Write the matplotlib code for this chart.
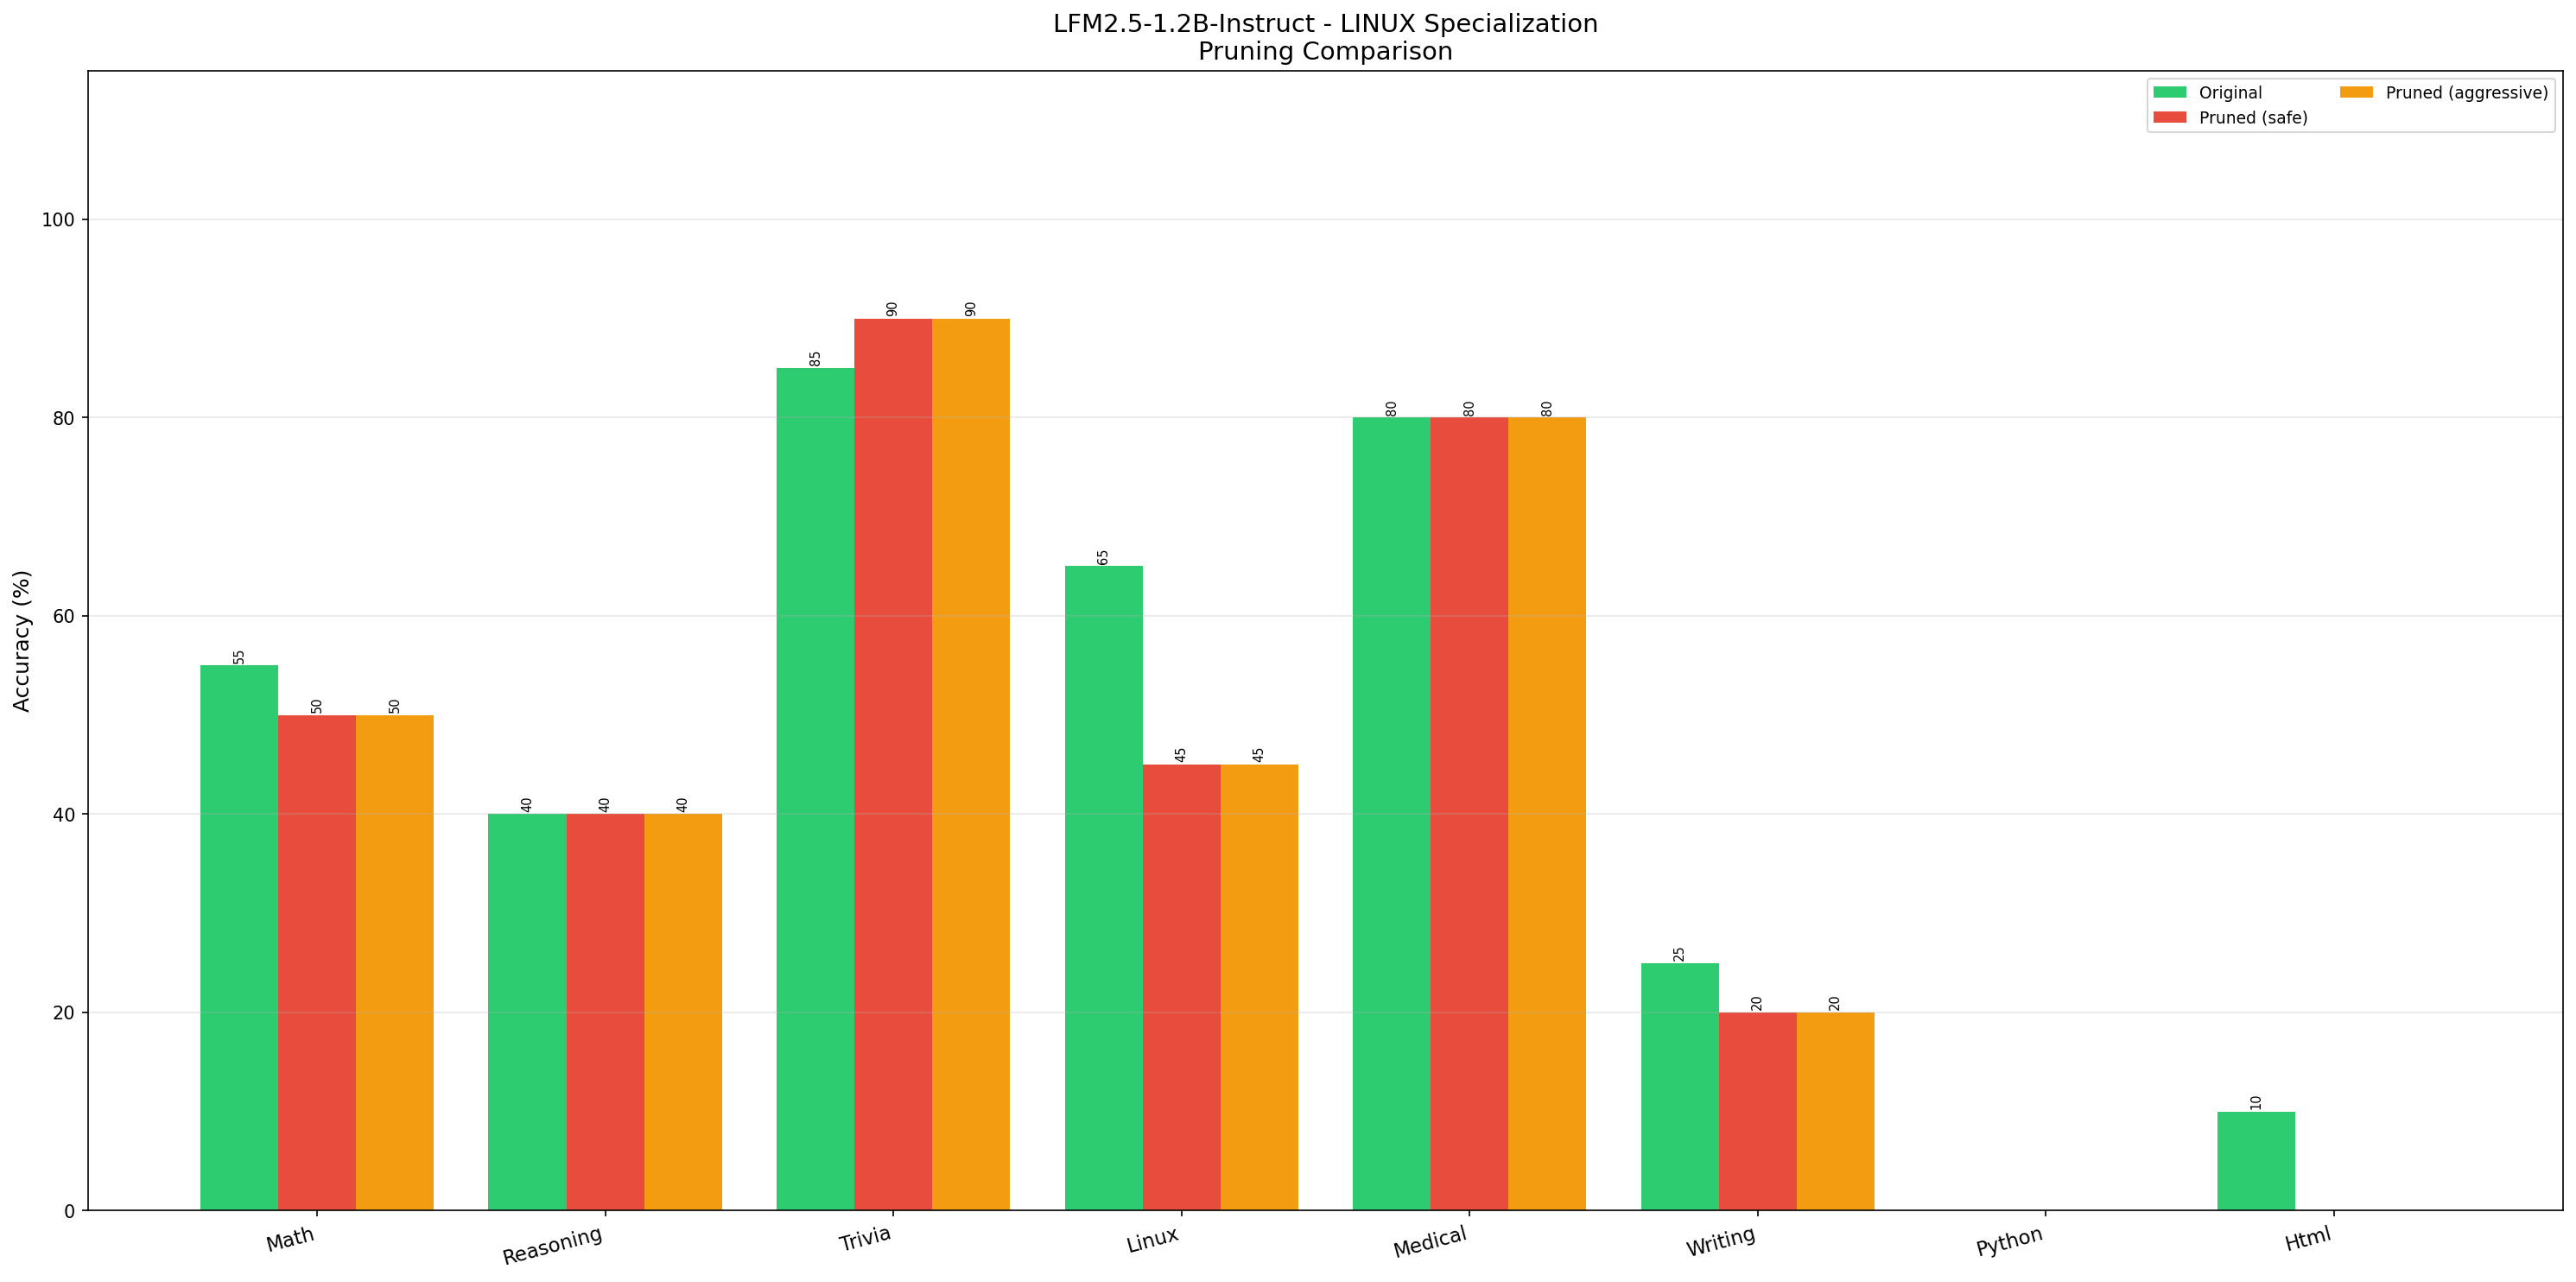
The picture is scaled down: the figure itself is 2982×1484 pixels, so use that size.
import matplotlib.pyplot as plt
import numpy as np

categories = ["Math", "Reasoning", "Trivia", "Linux", "Medical", "Writing", "Python", "Html"]
original = [55, 40, 85, 65, 80, 25, 0, 10]
pruned_safe = [50, 40, 90, 45, 80, 20, 0, 0]
pruned_aggr = [50, 40, 90, 45, 80, 20, 0, 0]

series = [
    ("Original", original, "#2ecc71"),
    ("Pruned (safe)", pruned_safe, "#e74c3c"),
    ("Pruned (aggressive)", pruned_aggr, "#f39c12"),
]

x = np.arange(len(categories))
width = 0.27

fig, ax = plt.subplots(figsize=(20, 10))
for i, (name, vals, col) in enumerate(series):
    bars = ax.bar(x + (i - 1) * width, vals, width, label=name, color=col)
    for b, v in zip(bars, vals):
        if v > 0:
            # value label just above the bar
            ax.text(b.get_x() + b.get_width() / 2, v + 0.25, str(v),
                    ha="center", va="bottom", rotation=90, fontsize=7)

ax.set_ylabel("Accuracy (%)", fontsize=12)
ax.set_title("LFM2.5-1.2B-Instruct - LINUX Specialization\nPruning Comparison", fontsize=14)
ax.set_xticks(x)
ax.set_xticklabels(categories, rotation=15, ha="right", fontsize=11)
ax.set_ylim(0, 115)
ax.legend(ncol=2, fontsize=9, loc="upper right")
ax.grid(axis="y", alpha=0.3)

plt.tight_layout()
plt.savefig("out.png", dpi=150, bbox_inches="tight")
